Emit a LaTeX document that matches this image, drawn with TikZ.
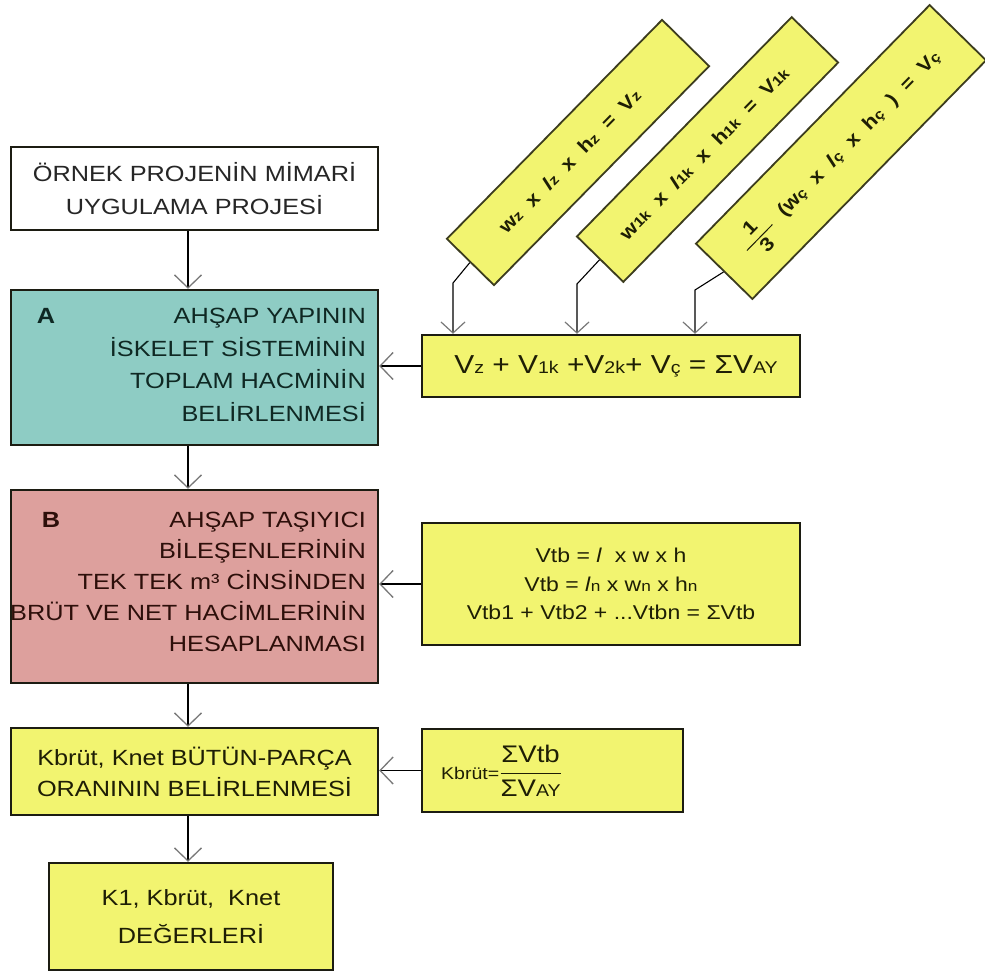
\documentclass[tikz,border=0pt]{standalone}
\usepackage{fontspec}
\setmainfont[FakeStretch=1.15]{Liberation Sans}
\usetikzlibrary{arrows.meta}
\definecolor{yel}{RGB}{242,244,112}
\definecolor{teal1}{RGB}{142,204,196}
\definecolor{pink1}{RGB}{221,160,157}
\definecolor{bord}{RGB}{28,28,18}
\definecolor{rbord}{RGB}{60,60,30}
\definecolor{tipgray}{RGB}{120,120,120}
\definecolor{ytext}{RGB}{30,30,5}
\definecolor{atext}{RGB}{15,40,35}
\definecolor{btext}{RGB}{45,15,10}
\newcommand\mfont{\fontsize{22}{32.5}\selectfont}
\newcommand\vfont{\fontsize{26}{28}\selectfont}
\newcommand\tfont{\fontsize{20}{28.5}\selectfont}
\newcommand\rfont{\fontsize{19}{20}\selectfont}
\newcommand\sm[1]{{\fontsize{17}{17}\selectfont #1}}
\newcommand\smt[1]{{\fontsize{15}{15}\selectfont #1}}
\newcommand\smr[1]{{\fontsize{14}{14}\selectfont #1}}
\begin{document}
\begin{tikzpicture}[x=1pt,y=-1pt,
  box/.style={draw=bord, line width=2.4pt, inner sep=0pt, align=center},
  rbox/.style={draw=rbord, fill=yel, line width=1.8pt, inner sep=0pt, text=ytext, font=\rfont\bfseries},
  arr/.style={draw=black, line width=1.6pt, -{Straight Barb[length=13pt,width=27pt,line width=1.3pt,color=tipgray]}},
  tarr/.style={draw=black, line width=1.1pt, -{Straight Barb[length=11pt,width=24pt,line width=1.2pt,color=tipgray]}}
]
\useasboundingbox (0,0) rectangle (985,974);
\fill[white] (0,0) rectangle (985,974);

% left column
\node[box, fill=white, minimum width=367pt, minimum height=83pt, font=\mfont, text=black!85] (top) at (194.5,188.5)
  {ÖRNEK PROJENİN MİMARİ\\UYGULAMA PROJESİ};
\node[box, fill=teal1, minimum width=367pt, minimum height=155pt] (A) at (194.5,367.5) {};
\node[anchor=east, align=right, font=\mfont, text=atext, inner sep=0pt] (Atext) at (366,365)
  {AHŞAP YAPININ\\İSKELET SİSTEMİNİN\\TOPLAM HACMİNİN\\BELİRLENMESİ};
\node[font=\fontsize{22}{24}\selectfont\bfseries, text=atext] (Alab) at (46,316) {A};
\node[box, fill=pink1, minimum width=367pt, minimum height=193pt] (B) at (194.5,586.5) {};
\node[anchor=east, align=right, font=\fontsize{22}{30.8}\selectfont, text=btext, inner sep=0pt] (Btext) at (366,582)
  {AHŞAP TAŞIYICI\\BİLEŞENLERİNİN\\TEK TEK m³ CİNSİNDEN\\BRÜT VE NET HACİMLERİNİN\\HESAPLANMASI};
\node[font=\fontsize{22}{24}\selectfont\bfseries, text=btext] (Blab) at (51,520) {B};
\node[box, fill=yel, minimum width=367pt, minimum height=87pt, font=\fontsize{22}{31}\selectfont, text=ytext] (KL) at (194.5,771.5)
  {Kbrüt, Knet BÜTÜN-PARÇA\\ORANININ BELİRLENMESİ};
\node[box, fill=yel, minimum width=284pt, minimum height=107pt, font=\fontsize{22}{38}\selectfont, text=ytext] (K1) at (191,916.5)
  {K1, Kbrüt,\ \ Knet\\DEĞERLERİ};

% right column
\node[box, fill=yel, minimum width=378pt, minimum height=62pt, font=\vfont, text=ytext] (V) at (611,366)
  {\hspace*{10pt}V\sm{z} + V\sm{1k} +V\sm{2k}+ V\sm{ç} = ΣV\sm{AY}};
\node[box, fill=yel, minimum width=378pt, minimum height=122pt, font=\tfont, text=ytext] (Vtb) at (611,584)
  {Vtb = \textit{l}\ \ x w x h\\Vtb = \textit{l}\smt{n} x w\smt{n} x h\smt{n}\\Vtb1 + Vtb2 + ...Vtbn = ΣVtb};
\node[box, fill=yel, minimum width=261pt, minimum height=83pt, text=ytext] (KF) at (552.5,770.5) {};
\node[anchor=west, inner sep=0pt, text=ytext, font=\fontsize{24}{25}\selectfont] (KFtext) at (441,771)
  {{\fontsize{17}{17}\selectfont Kbrüt=}$\displaystyle{\mbox{ΣVtb}\above1.5pt\mbox{ΣV\sm{AY}}}$};

% rotated boxes
\node[rbox, rotate=45.5, minimum width=307pt, minimum height=66pt] (r1) at (578,152.5)
  {w\smr{z} \ x \ \textit{l}\smr{z} \ x \ h\smr{z} \ = \ V\smr{z}\hspace*{24pt}};
\node[rbox, rotate=45.6, minimum width=307pt, minimum height=65pt] (r2) at (707.5,149.5)
  {w\smr{1k} \ x \ \textit{l}\smr{1k} \ x \ h\smr{1k} \ = \ V\smr{1k}\hspace*{10pt}};
\node[rbox, rotate=45.6, minimum width=334pt, minimum height=79pt] (r3) at (841,152)
  {$\displaystyle{\mbox{\ \ 1\ \ }\above1pt\mbox{3}}$\ \ (w\smr{ç} \ x \ \textit{l}\smr{ç} \ x \ h\smr{ç} \ ) \ = \ V\smr{ç}};

\coordinate (col) at (188,0);
\coordinate (b1) at (453,283);
\coordinate (b2) at (577,284);
\coordinate (b3) at (695,290);

% connectors
\draw[arr] (top.south -| col) -- (A.north -| col);
\draw[arr] (A.south -| col) -- (B.north -| col);
\draw[arr] (B.south -| col) -- (KL.north -| col);
\draw[arr] (KL.south -| col) -- (K1.north -| col);
\draw[arr] (V.west) -- (A.east |- V.west);
\draw[arr] (Vtb.west) -- (B.east |- Vtb.west);
\draw[arr] (KF.west) -- (KL.east |- KF.west);
\draw[tarr] (r1.west) -- (b1) -- (V.north -| b1);
\draw[tarr] (r2.west) -- (b2) -- (V.north -| b2);
\draw[tarr] (r3.west) -- (b3) -- (V.north -| b3);
\end{tikzpicture}
\end{document}
